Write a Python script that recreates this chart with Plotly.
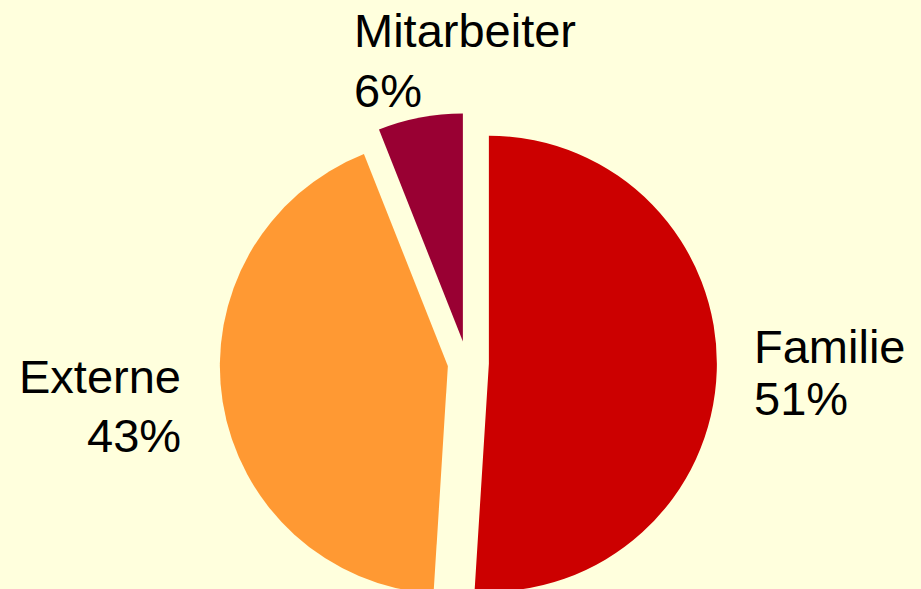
import plotly.graph_objects as go

# ---- data ----
labels = ["Familie", "Externe", "Mitarbeiter"]
values = [51, 43, 6]

# ---- styling ----
colors = ["#CC0000", "#FF9933", "#990033"]
bg = "#FFFFDD"
W, H = 921, 640
cx, cy, R, pull = 467, 363, 228, 0.096
pulls = [0.096, 0.085, 0.096]
box = 2 * R * (1 + max(pulls))
FS = 47

# label anchor positions in pixels: (x, baseline line1, baseline line2, xanchor)
label_pos = {
    "Familie": (752, 363, 415, "left"),
    "Externe": (183, 393, 452, "right"),
    "Mitarbeiter": (352, 47, 107, "left"),
}

fig = go.Figure(
    go.Pie(
        labels=labels,
        values=values,
        marker=dict(colors=colors, line=dict(width=0)),
        pull=pulls,
        sort=False,
        direction="clockwise",
        rotation=0,
        textinfo="none",
        hoverinfo="label+percent",
        showlegend=False,
        domain=dict(
            x=[(cx - box / 2) / W, (cx + box / 2) / W],
            y=[1 - (cy + box / 2) / H, 1 - (cy - box / 2) / H],
        ),
    )
)

total = sum(values)
annotations = []
for lab, v in zip(labels, values):
    x, b1, b2, xa = label_pos[lab]
    for txt, base in ((lab, b1), (f"{round(100 * v / total)}%", b2)):
        annotations.append(
            dict(
                text=txt,
                x=x / W,
                y=1 - (base - 0.35 * FS) / H,
                xref="paper",
                yref="paper",
                xanchor=xa,
                yanchor="middle",
                align=xa,
                showarrow=False,
                font=dict(family="Liberation Sans, Arial, sans-serif", size=FS, color="#000000"),
            )
        )

fig.update_layout(
    width=W,
    height=H,
    autosize=False,
    margin=dict(l=0, r=0, t=0, b=0),
    paper_bgcolor=bg,
    plot_bgcolor=bg,
    annotations=annotations,
)

fig.write_html(
    "out.html",
    config={"displayModeBar": False},
    post_script="document.body.style.margin='0';document.body.style.overflow='hidden';"
    "document.documentElement.style.overflow='hidden';",
)
